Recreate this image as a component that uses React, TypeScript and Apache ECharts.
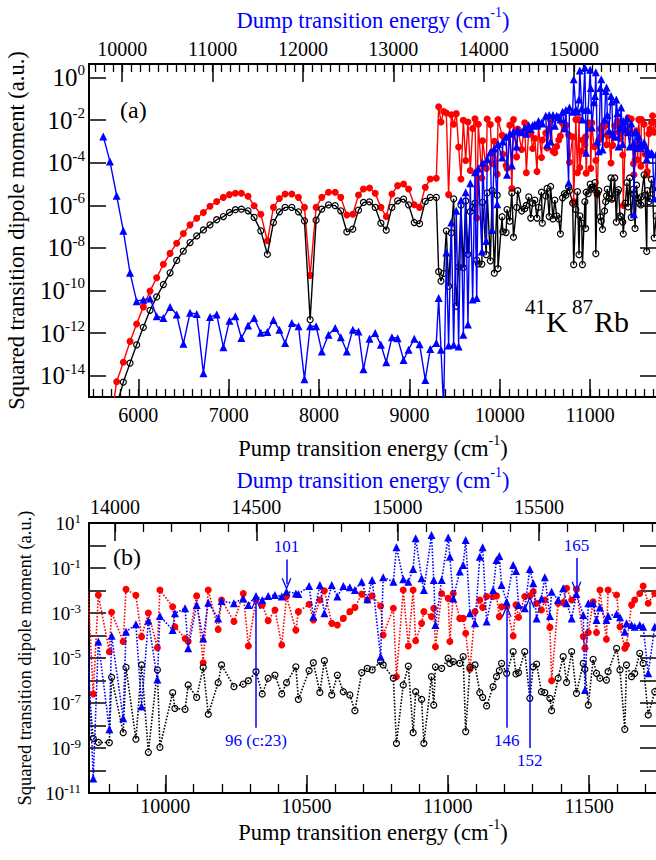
import React, { useEffect, useRef } from "react";
import * as echarts from "echarts";

// Pump transition energy of each intermediate level (cm^-1)
const pumpEnergy = [
  5613, 5687, 5761, 5835, 5909, 5982, 6056, 6130, 6204, 6278,
  6352, 6425, 6499, 6573, 6647, 6721, 6794, 6868, 6942, 7009,
  7075, 7141, 7215, 7282, 7356, 7429, 7496, 7562, 7625, 7699,
  7773, 7839, 7902, 7968, 8031, 8105, 8179, 8241, 8308, 8374,
  8437, 8492, 8559, 8622, 8685, 8744, 8807, 8870, 8936, 8991,
  9054, 9113, 9176, 9231, 9298,
  9324, 9350, 9379, 9409, 9434, 9464, 9490, 9519, 9545, 9571,
  9597, 9623, 9648, 9674, 9700, 9726,
  9745, 9763, 9802, 9810, 9851, 9861, 9896, 9916, 9940, 9972,
  9981, 10026, 10034, 10070, 10081, 10111, 10134, 10152, 10187, 10199,
  10243, 10276, 10294, 10321, 10343, 10364, 10388, 10412, 10429, 10462,
  10471, 10509, 10524, 10547, 10563, 10589, 10609, 10630, 10653, 10671,
  10695, 10715, 10732, 10762, 10771, 10807, 10818, 10842, 10860, 10877,
  10886, 10907, 10915, 10942, 10950, 10956, 10978, 11001, 11007, 11019,
  11042, 11054, 11063, 11078, 11096, 11113, 11123, 11137, 11160, 11172,
  11182, 11190, 11208, 11231, 11241, 11250, 11272, 11290, 11302, 11314,
  11331, 11343, 11361, 11367, 11390, 11408, 11420, 11438, 11455, 11479,
  11485, 11497, 11514, 11526, 11538, 11561, 11567, 11597, 11609, 11626,
  11632, 11650, 11661, 11679, 11691, 11709, 11732, 11750,
];

// log10 of squared transition dipole moment (a.u.)
const redLog10 = [
  -18, -16.5, -14.28, -13.37, -12.39, -11.57, -10.77, -10.03, -9.4, -8.77,
  -8.26, -7.78, -7.33, -6.92, -6.61, -6.34, -6.05, -5.82, -5.63, -5.5,
  -5.44, -5.44, -5.58, -6.02, -6.42, -7.67, -6.1, -5.68, -5.47, -5.47,
  -5.63, -6.1, -9.29, -6.1, -5.63, -5.39, -5.39, -5.63, -6.46, -6.42,
  -5.52, -5.24, -5.19, -5.44, -6.1, -6.53, -5.47, -5.08, -5.0, -5.24,
  -5.98, -6.1, -5.16, -4.77, -4.73,
  -1.38, -2.09, -1.6, -1.67, -5.5, -1.75, -2.2, -1.7, -3.27, -4.77,
  -2.01, -3.9, -2.09, -4.37, -2.4, -1.94,
  -6.6, -2.2, -4.72, -2.97, -4.27, -1.95, -2.21, -4.05, -3.0, -4.54,
  -1.98, -2.72, -3.61, -4.13, -4.27, -2.24, -5.21, -1.98, -3.73, -2.42,
  -3.38, -2.13, -4.47, -2.42, -2.64, -3.34, -2.87, -4.42, -2.27, -3.76,
  -2.94, -2.61, -3.31, -2.42, -2.01, -3.46, -3.53, -3.24, -2.94, -2.75,
  -2.16, -2.42, -2.24, -2.69, -3.98, -2.79, -5.83, -1.98, -4.47, -1.98,
  -4.23, -3.46, -2.94, -3.16, -2.79, -4.5, -2.13, -2.35, -4.27, -2.13,
  -3.24, -3.24, -3.9, -5.5, -2.94, -2.42, -2.75, -2.27, -2.27, -2.24,
  -3.16, -2.72, -2.72, -4.02, -2.64, -3.19, -2.27, -2.24, -2.05, -2.57,
  -2.87, -2.42, -3.64, -6.01, -2.57, -2.54, -1.9, -2.42, -1.95, -4.05,
  -4.57, -3.87, -2.5, -3.87, -1.98, -4.17, -1.98, -2.2, -3.61, -4.57,
  -4.42, -2.64, -2.42, -2.13, -1.8, -2.57, -2.13, -1.98,
];

const blackLog10 = [
  -19, -17.5, -15.4, -14.3, -13.41, -12.55, -11.73, -10.93, -10.3, -9.72,
  -9.17, -8.59, -8.15, -7.75, -7.44, -7.16, -6.92, -6.68, -6.53, -6.34,
  -6.21, -6.18, -6.26, -6.57, -7.2, -8.3, -6.81, -6.31, -6.1, -6.1,
  -6.31, -6.73, -11.37, -6.7, -6.18, -5.98, -6.02, -6.26, -7.25, -7.12,
  -6.23, -5.87, -5.84, -6.1, -6.84, -7.17, -6.1, -5.79, -5.71, -5.98,
  -6.81, -6.86, -5.82, -5.63, -5.63,
  -9.12, -9.56, -9.2, -7.2, -9.8, -7.3, -5.7, -10.74, -8.9, -6.0,
  -8.93, -5.8, -8.3, -6.3, -6.1, -5.9,
  -8.57, -8.75, -8.76, -5.86, -8.32, -5.42, -8.61, -5.31, -9.19, -5.53,
  -8.97, -6.54, -7.24, -7.28, -6.2, -6.75, -5.42, -7.5, -6.1, -5.31,
  -6.27, -6.16, -6.01, -5.61, -6.6, -5.9, -5.76, -6.6, -6.1, -5.39,
  -6.84, -5.56, -5.21, -6.53, -5.12, -6.64, -5.76, -6.5, -6.64, -7.34,
  -5.65, -5.46, -5.53, -5.16, -5.31, -5.9, -8.79, -6.2, -5.36, -8.32,
  -6.5, -6.84, -8.79, -5.83, -7.09, -5.39, -5.46, -5.01, -5.24, -5.16,
  -5.24, -4.94, -8.27, -5.42, -5.31, -6.54, -6.75, -7.13, -6.27, -5.83,
  -5.56, -5.24, -5.68, -4.72, -5.71, -5.65, -4.72, -6.79, -5.39, -5.27,
  -6.5, -6.54, -6.79, -7.34, -5.9, -4.94, -6.08, -4.72, -6.57, -5.24,
  -5.5, -7.09, -5.06, -5.68, -5.9, -5.98, -5.61, -4.57, -5.53, -8.17,
  -5.31, -5.83, -5.68, -4.79, -5.24, -7.53, -6.5, -5.83,
];

const blueLog10 = [
  -2.77, -3.95, -5.55, -7.2, -9.17, -10.5, -10.43, -10.38, -11.21, -11.29,
  -10.77, -11.13, -12.5, -11.05, -11.1, -13.89, -11.24, -11.13, -12.66, -11.42,
  -11.21, -12.23, -11.64, -11.29, -11.99, -11.95, -11.38, -11.84, -12.47, -11.53,
  -11.68, -14.17, -11.68, -11.68, -12.86, -12.08, -11.76, -12.2, -12.86, -11.84,
  -11.92, -13.7, -12.27, -12.0, -12.55, -13.37, -12.2, -12.24, -13.26, -12.78,
  -12.27, -12.52, -14.2, -12.75, -12.47,
  -10.35, -12.78, -15.5, -8.22, -12.58, -6.81, -12.55, -6.26, -12.63, -5.76,
  -12.08, -5.39, -11.6, -4.97, -10.42, -4.45,
  -10.35, -4.27, -8.17, -4.01, -7.68, -3.83, -3.5, -7.16, -3.34, -5.95,
  -3.13, -3.76, -3.01, -2.79, -4.57, -2.64, -4.13, -2.54, -3.24, -2.47,
  -2.57, -2.35, -2.64, -2.24, -2.42, -2.24, -2.2, -2.27, -2.05, -2.13,
  -2.16, -1.8, -3.16, -1.76, -3.01, -1.76, -2.27, -1.8, -1.86, -1.98,
  -1.61, -2.39, -1.53, -4.94, -1.41, -1.61, -0.08, -1.5, -1.61, -1.04,
  0.32, -1.46, -1.98, 0.47, -1.53, -3.53, -1.53, 0.36, -0.5, -2.35,
  -1.16, -0.87, 0.24, -3.01, -3.46, -0.5, -0.08, -3.38, -1.98, -0.64,
  -0.47, -1.76, -2.5, -0.87, -1.13, -2.64, -2.79, -1.04, -1.68, -3.24,
  -2.35, -1.41, -3.13, -2.05, -2.42, -1.9, -2.57, -3.24, -2.16, -3.09,
  -6.42, -2.57, -2.57, -3.31, -2.76, -3.31, -3.13, -3.04, -3.19, -3.83,
  -3.46, -3.53, -3.61, -3.53, -3.61, -5.68, -3.61, -3.76,
];

// Axis ranges and tick labels
const pumpRangeA = [5455, 11740];
const dumpRangeA = [9633, 15918];
const yRangeA = [-15, 0.63];
const pumpTicksA = [6000, 7000, 8000, 9000, 10000, 11000];
const dumpTicksA = [10000, 11000, 12000, 13000, 14000, 15000];
const yLabelsA = [0, -2, -4, -6, -8, -10, -12, -14];

const pumpRangeB = [9730, 11740];
const dumpRangeB = [13908, 15918];
const yRangeB = [-11, 1];
const pumpTicksB = [10000, 10500, 11000, 11500];
const dumpTicksB = [14000, 14500, 15000, 15500];
const yLabelsB = [1, -1, -3, -5, -7, -9, -11];
const yTicksB = [1, 0, -1, -2, -3, -4, -5, -6, -7, -8, -9, -10, -11];

// Level annotations in panel (b): label, pump energy, line start/end (log10)
const annLabels = ["101", "96 (c:23)", "146", "152", "165"];
const annPump = [10429, 10321, 11208, 11290, 11455];
const annFrom = [-0.62, -8.1, -8.1, -9.0, -0.55];
const annTo = [-1.72, -2.55, -2.9, -2.5, -1.88];

const FONT = '"Liberation Serif", "Times New Roman", serif';
const BLUE = "#0000ff";
const RED = "#ff0000";

function steps(from: number, to: number, step: number) {
  const out: number[] = [];
  for (let v = from; v <= to; v += step) out.push(v);
  return out;
}

const supName = (color: string) => ({
  fontSize: 22.5,
  fontFamily: FONT,
  color,
  lineHeight: 30,
  rich: { s: { fontSize: 14, lineHeight: 14, verticalAlign: "top", fontFamily: FONT, color } },
});

function xMain(grid: number, position: string, range: number[], labels: number[], name: string, nameColor: string, nameGap: number, margin: number) {
  return {
    type: "value",
    gridIndex: grid,
    position,
    min: range[0],
    max: range[1],
    axisLine: { show: true, onZero: false, lineStyle: { color: "#000", width: 2 } },
    axisTick: { show: true, inside: true, length: 18, customValues: labels, lineStyle: { color: "#000", width: 1.5 } },
    axisLabel: {
      show: true,
      customValues: labels,
      formatter: (v: number) => String(Math.round(v)),
      fontSize: 20,
      fontFamily: FONT,
      color: "#000",
      margin,
    },
    splitLine: { show: false },
    name,
    nameLocation: "middle",
    nameGap,
    nameTextStyle: supName(nameColor),
  };
}

function xMinor(grid: number, position: string, range: number[], ticks: number[], len: number) {
  return {
    type: "value",
    gridIndex: grid,
    position,
    min: range[0],
    max: range[1],
    axisLine: { show: false, onZero: false },
    axisTick: { show: true, inside: true, length: len, customValues: ticks, lineStyle: { color: "#000", width: 1.3 } },
    axisLabel: { show: false },
    splitLine: { show: false },
  };
}

function yMain(grid: number, range: number[], labels: number[], ticks: number[], big: number, small: number, name: string, nameSize: number, nameGap: number, margin: number) {
  return {
    type: "value",
    gridIndex: grid,
    position: "left",
    min: range[0],
    max: range[1],
    axisLine: { show: true, onZero: false, lineStyle: { color: "#000", width: 2 } },
    axisTick: { show: true, inside: true, length: 17, customValues: ticks, lineStyle: { color: "#000", width: 1.5 } },
    axisLabel: {
      show: true,
      customValues: labels,
      margin,
      formatter: (v: number) => `{b|10}{s|${v}}`,
      rich: {
        b: { fontSize: big, lineHeight: big + 4, fontFamily: FONT, color: "#000" },
        s: { fontSize: small, lineHeight: small, verticalAlign: "top", fontFamily: FONT, color: "#000" },
      },
    },
    splitLine: { show: false },
    name,
    nameLocation: "middle",
    nameGap,
    nameTextStyle: { fontSize: nameSize, fontFamily: FONT, color: "#000" },
  };
}

function yMirror(grid: number, range: number[], ticks: number[]) {
  return {
    type: "value",
    gridIndex: grid,
    position: "right",
    min: range[0],
    max: range[1],
    axisLine: { show: true, onZero: false, lineStyle: { color: "#000", width: 2 } },
    axisTick: { show: true, inside: true, length: 17, customValues: ticks, lineStyle: { color: "#000", width: 1.5 } },
    axisLabel: { show: false },
    splitLine: { show: false },
  };
}

function seriesFor(xIdx: number, yIdx: number, vals: number[], kind: string, dotted: boolean) {
  const color = kind === "red" ? RED : kind === "blue" ? BLUE : "#000";
  const base: any = {
    type: "line",
    xAxisIndex: xIdx,
    yAxisIndex: yIdx,
    clip: true,
    data: pumpEnergy.map((p, i) => [p, vals[i]]),
    lineStyle: { color, width: dotted ? 1.6 : 1.4, type: dotted ? "dotted" : "solid" },
    showAllSymbol: true,
    silent: true,
    z: kind === "red" ? 2 : kind === "black" ? 3 : 4,
  };
  if (kind === "red") {
    base.symbol = "circle";
    base.symbolSize = 7;
    base.itemStyle = { color: RED, borderWidth: 0 };
  } else if (kind === "black") {
    base.symbol = "circle";
    base.symbolSize = 6;
    base.itemStyle = { color: "rgba(0,0,0,0)", borderColor: "#000", borderWidth: 1.2 };
  } else {
    base.symbol = "triangle";
    base.symbolSize = 8;
    base.itemStyle = { color: BLUE, borderWidth: 0 };
  }
  return base;
}

const chevron = "path://M0,12 L5,0 L10,12 L8.6,12 L5,3.4 L1.4,12 Z";

function buildOption() {
  const blueB = seriesFor(4, 2, blueLog10, "blue", true);
  blueB.markLine = {
    silent: true,
    animation: false,
    symbol: ["none", chevron],
    symbolSize: [10, 12],
    lineStyle: { color: BLUE, width: 1.5, type: "solid" },
    label: { show: true, position: "start", formatter: "{b}", color: BLUE, fontSize: 17, fontFamily: FONT, distance: 4 },
    data: annLabels.map((lab, i) => [
      { coord: [annPump[i], annFrom[i]], name: lab },
      { coord: [annPump[i], annTo[i]] },
    ]),
  };

  return {
    animation: false,
    backgroundColor: "#fff",
    grid: [
      { left: 89, top: 64, width: 568, height: 333, outerBoundsMode: "none", containLabel: false },
      { left: 89, top: 523, width: 568, height: 270, outerBoundsMode: "none", containLabel: false },
    ],
    xAxis: [
      xMain(0, "bottom", pumpRangeA, pumpTicksA, "Pump transition energy (cm{s|-1})", "#000", 36, 8),
      xMinor(0, "bottom", pumpRangeA, steps(5500, 11700, 100), 8),
      xMain(0, "top", dumpRangeA, dumpTicksA, "Dump transition energy (cm{s|-1})", BLUE, 29, 5),
      xMinor(0, "top", dumpRangeA, steps(9700, 15900, 100), 8),
      xMain(1, "bottom", pumpRangeB, pumpTicksB, "Pump transition energy (cm{s|-1})", "#000", 24, 3),
      xMinor(1, "bottom", pumpRangeB, steps(9800, 11700, 100), 9),
      xMain(1, "top", dumpRangeB, dumpTicksB, "Dump transition energy (cm{s|-1})", BLUE, 28, 6),
      xMinor(1, "top", dumpRangeB, steps(14000, 15900, 100), 9),
    ],
    yAxis: [
      yMain(0, yRangeA, yLabelsA, yLabelsA, 25, 15, "Squared transition dipole moment (a.u.)", 22.5, 61, 4),
      yMirror(0, yRangeA, yLabelsA),
      yMain(1, yRangeB, yLabelsB, yTicksB, 19, 13, "Squared transition dipole moment (a.u.)", 18.5, 55, 8),
      yMirror(1, yRangeB, yTicksB),
    ],
    graphic: [
      { type: "text", left: 120, top: 98, style: { text: "(a)", font: `24px ${FONT}`, fill: "#000" } },
      { type: "text", left: 113, top: 545, style: { text: "(b)", font: `24px ${FONT}`, fill: "#000" } },
      { type: "text", left: 525, top: 296, style: { text: "41", font: `21px ${FONT}`, fill: "#000" } },
      { type: "text", left: 546, top: 306, style: { text: "K", font: `30px ${FONT}`, fill: "#000" } },
      { type: "text", left: 572, top: 296, style: { text: "87", font: `21px ${FONT}`, fill: "#000" } },
      { type: "text", left: 594, top: 306, style: { text: "Rb", font: `30px ${FONT}`, fill: "#000" } },
    ],
    series: [
      seriesFor(0, 0, redLog10, "red", false),
      seriesFor(0, 0, blackLog10, "black", false),
      seriesFor(0, 0, blueLog10, "blue", false),
      seriesFor(4, 2, redLog10, "red", true),
      seriesFor(4, 2, blackLog10, "black", true),
      blueB,
    ],
  };
}

export default function App() {
  const ref = useRef<HTMLDivElement>(null);
  useEffect(() => {
    if (!ref.current) return;
    const chart = echarts.init(ref.current, null, { renderer: "svg" });
    chart.setOption(buildOption() as any);
    return () => chart.dispose();
  }, []);
  return (
    <div style={{ position: "fixed", left: 0, top: 0, width: 656, height: 860, overflow: "hidden", background: "#fff" }}>
      <div ref={ref} style={{ width: 720, height: 860 }} />
    </div>
  );
}
